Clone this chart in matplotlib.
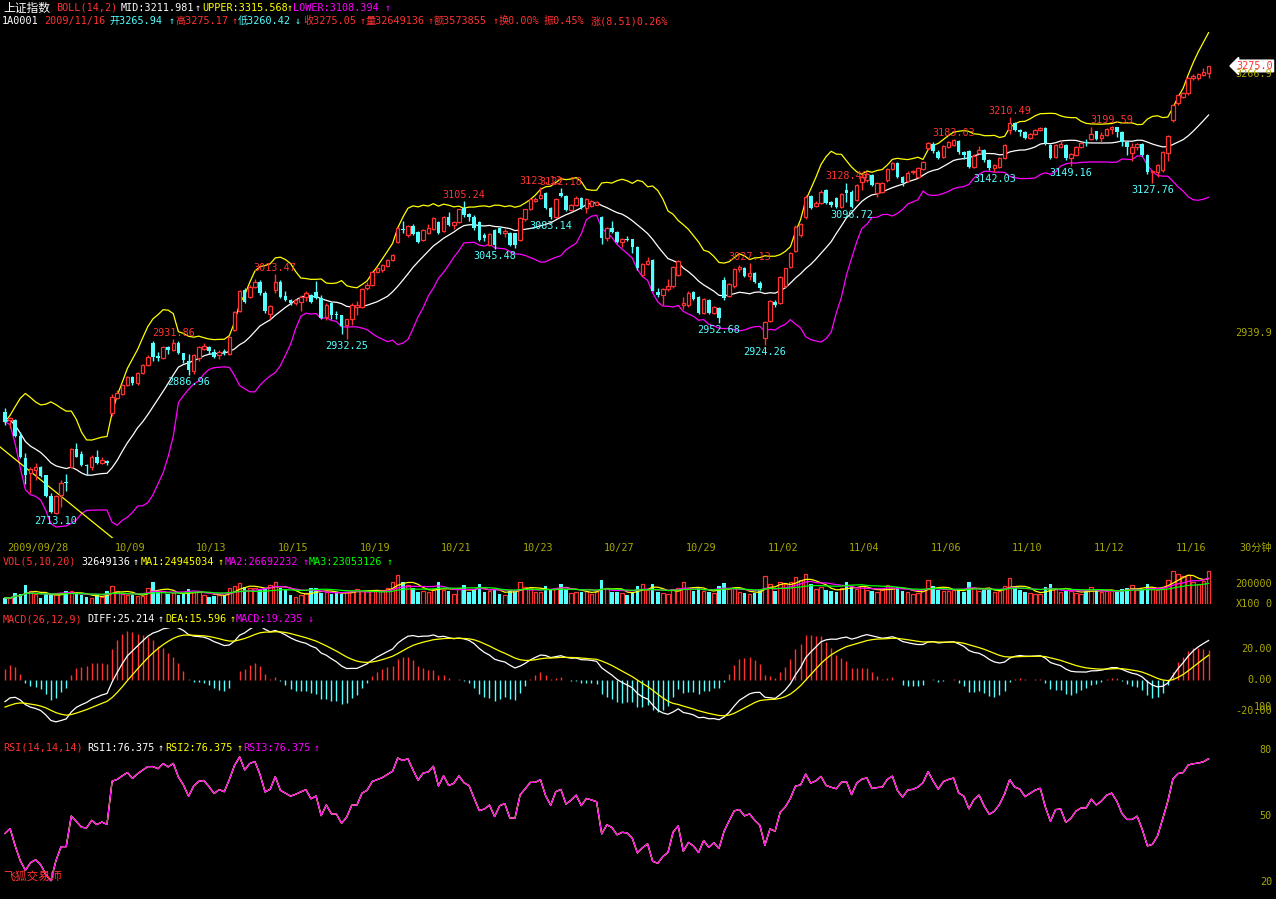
import numpy as np
import pandas as pd
import matplotlib
matplotlib.use("Agg")
import matplotlib.pyplot as plt
from matplotlib.transforms import blended_transform_factory

# 上证指数 30-minute candles, 2009/09/28 .. 2009/11/16
opens = [
    2841.1, 2830.7, 2830.7, 2810.7, 2782.7, 2763.8, 2768.0, 2772.1, 2761.7, 2735.3, 2714.0, 2736.6, 2753.3, 2771.4, 2794.3, 2787.7, 2774.2, 2772.1, 2784.7, 2777.1, 2779.3,
    2839.1, 2858.0, 2863.3, 2874.6, 2884.3, 2876.8, 2890.1, 2899.7,
    2927.0, 2911.0, 2908.0, 2922.7, 2918.6, 2927.7, 2914.4, 2905.1,
    2892.0, 2908.0, 2919.4, 2922.7, 2916.4, 2912.3, 2917.3, 2913.2,
    2943.7, 2967.5, 2993.8, 2985.0, 2998.0, 3004.0, 2989.7, 2963.8,
    2993.8, 3004.3, 2986.3, 2981.3, 2977.0, 2979.0, 2984.7, 2987.6,
    2991.8, 2983.5, 2960.4, 2977.2, 2963.5, 2962.5, 2949.9, 2957.1,
    2972.0, 2972.9, 2996.0, 3000.0, 3016.8, 3019.0, 3024.0, 3031.5,
    3054.5, 3071.0, 3062.9, 3074.0, 3067.0, 3056.6, 3065.8, 3070.0,
    3079.6, 3068.3, 3085.9, 3075.4, 3079.6, 3096.4, 3089.0, 3085.9,
    3079.6, 3062.9, 3050.4, 3069.2, 3071.3, 3066.0, 3065.8, 3065.0,
    3056.6, 3082.6, 3095.1, 3106.0, 3109.0, 3115.2, 3096.4, 3085.1,
    3115.2, 3111.8, 3094.3, 3100.6, 3108.9, 3096.4, 3099.0, 3101.0,
    3085.1, 3058.8, 3071.3, 3067.0, 3054.5, 3057.5, 3057.5, 3048.3,
    3012.7, 3026.5, 3031.5, 2991.8, 2987.6, 2994.7, 2998.9, 3012.7,
    2975.0, 2975.0, 2991.8, 2984.7, 2965.4, 2981.3, 2965.4, 2970.9,
    3006.4, 2986.3, 2998.9, 3019.8, 3021.1, 3011.5, 3014.8, 3002.3,
    2933.3, 2955.0, 2979.0, 2977.0, 2998.9, 3022.4, 3043.0, 3062.9,
    3085.1, 3111.8, 3099.2, 3103.4, 3119.4, 3104.7, 3108.9, 3098.4,
    3119.4, 3117.2, 3106.7, 3129.7, 3131.9, 3138.2, 3115.2, 3116.4,
    3131.9, 3145.3, 3153.6, 3136.1, 3131.1, 3142.0, 3136.1, 3145.3,
    3172.1, 3177.1, 3167.4, 3161.2, 3173.7, 3175.8, 3180.8, 3166.7,
    3168.3, 3148.6, 3165.4, 3169.6, 3157.0, 3146.6, 3148.6, 3159.9,
    3194.6, 3203.1, 3194.6, 3192.5, 3185.2, 3189.3, 3194.6, 3197.5,
    3175.8, 3161.2, 3173.7, 3175.8, 3159.1, 3163.3, 3173.7, 3180.0,
    3183.5, 3193.0, 3184.2, 3188.4, 3195.9, 3198.8, 3191.8, 3180.0,
    3165.4, 3173.7, 3176.7, 3163.3, 3142.3, 3142.3, 3144.5, 3165.4,
    3207.2, 3228.2, 3236.5, 3240.7, 3259.5, 3259.5, 3263.7, 3265.94,
]
closes = [
    2828.6, 2832.8, 2810.7, 2784.7, 2761.7, 2768.8, 2771.4, 2760.5, 2735.3, 2715.0, 2735.3, 2751.3, 2751.3, 2794.3, 2784.7, 2774.2, 2773.0, 2783.9, 2777.1, 2780.5, 2777.1,
    2859.2, 2864.2, 2874.6, 2884.3, 2876.8, 2889.3, 2899.7, 2910.0,
    2910.2, 2908.0, 2921.9, 2918.6, 2927.7, 2914.4, 2906.0, 2893.5,
    2912.3, 2921.9, 2923.6, 2917.3, 2910.2, 2916.4, 2914.4, 2935.3,
    2966.6, 2993.0, 2979.0, 2998.0, 3004.3, 2990.0, 2967.9, 2973.8,
    3004.3, 2985.5, 2981.3, 2977.2, 2981.0, 2985.5, 2989.7, 2979.0,
    2983.5, 2958.3, 2975.1, 2962.5, 2962.0, 2948.7, 2957.1, 2975.1,
    2975.0, 2994.7, 3000.0, 3016.8, 3021.0, 3025.0, 3031.5, 3037.8,
    3071.3, 3069.0, 3074.0, 3064.0, 3054.5, 3069.1, 3071.3, 3083.9,
    3065.0, 3085.9, 3075.4, 3079.6, 3095.1, 3088.0, 3085.0, 3071.3,
    3056.6, 3058.7, 3064.2, 3050.4, 3065.0, 3068.0, 3050.4, 3050.4,
    3083.9, 3095.1, 3107.7, 3108.0, 3113.0, 3096.4, 3085.1, 3107.7,
    3111.8, 3094.3, 3100.6, 3108.9, 3096.4, 3107.7, 3106.0, 3104.0,
    3058.8, 3071.3, 3067.0, 3054.5, 3057.5, 3056.6, 3048.3, 3021.0,
    3026.5, 3030.6, 2993.0, 2987.6, 2994.7, 2998.9, 3022.4, 3030.6,
    2978.0, 2990.5, 2982.2, 2965.4, 2982.2, 2965.4, 2972.0, 2958.3,
    2983.5, 3001.4, 3019.8, 3022.4, 3011.5, 3015.0, 3004.3, 2996.0,
    2954.1, 2980.0, 2975.0, 3009.8, 3021.1, 3040.7, 3073.3, 3076.7,
    3111.0, 3096.4, 3103.4, 3117.2, 3103.4, 3100.5, 3098.4, 3114.3,
    3116.0, 3098.4, 3125.6, 3136.1, 3139.4, 3125.6, 3127.8, 3128.5,
    3145.3, 3152.8, 3136.1, 3127.8, 3141.1, 3142.6, 3146.6, 3154.9,
    3178.7, 3168.7, 3159.8, 3174.9, 3179.2, 3182.1, 3166.7, 3163.3,
    3148.6, 3162.4, 3169.6, 3157.0, 3146.6, 3150.7, 3159.9, 3175.8,
    3203.1, 3194.6, 3192.5, 3184.2, 3189.3, 3194.6, 3197.5, 3178.0,
    3159.9, 3175.8, 3176.7, 3159.1, 3164.2, 3173.7, 3177.9, 3178.0,
    3189.3, 3183.4, 3188.4, 3195.9, 3198.8, 3191.8, 3180.0, 3173.7,
    3173.7, 3176.7, 3163.3, 3142.3, 3143.6, 3150.7, 3166.7, 3187.5,
    3226.0, 3238.6, 3240.7, 3259.5, 3262.8, 3264.6, 3267.9, 3275.05,
]
highs = [
    2845.8, 2834.5, 2832.0, 2816.0, 2788.9, 2772.1, 2777.1, 2772.7, 2762.0, 2738.7, 2736.0, 2755.4, 2762.9, 2795.0, 2801.5, 2791.2, 2775.0, 2786.6, 2793.0, 2784.7, 2780.5,
    2862.9, 2867.8, 2876.0, 2886.0, 2886.0, 2891.0, 2901.0, 2912.0,
    2930.0, 2916.0, 2923.0, 2924.0, 2931.86, 2930.0, 2915.0, 2914.0,
    2913.0, 2923.0, 2927.0, 2924.0, 2920.0, 2918.0, 2920.0, 2936.0,
    2968.0, 2994.0, 2996.0, 3000.0, 3008.0, 3006.0, 2992.0, 2975.0,
    3013.47, 3006.0, 2993.0, 2983.0, 2983.0, 2987.0, 2992.0, 2989.0,
    3005.0, 2987.0, 2977.0, 2979.0, 2968.0, 2963.0, 2958.0, 2977.0,
    2980.0, 2996.0, 3004.0, 3018.0, 3022.0, 3027.0, 3033.0, 3039.0,
    3073.0, 3080.0, 3075.0, 3077.0, 3068.0, 3070.0, 3077.0, 3085.0,
    3081.0, 3087.0, 3092.0, 3081.0, 3096.0, 3105.24, 3091.0, 3088.0,
    3081.0, 3066.0, 3065.0, 3070.0, 3073.0, 3070.0, 3067.0, 3066.0,
    3085.0, 3096.0, 3109.0, 3110.0, 3123.13, 3117.0, 3098.0, 3109.0,
    3122.18, 3113.0, 3102.0, 3112.0, 3110.0, 3109.0, 3107.0, 3106.0,
    3087.0, 3073.0, 3080.0, 3068.0, 3059.0, 3062.0, 3058.0, 3049.0,
    3028.0, 3035.0, 3033.0, 2996.0, 2996.0, 3008.0, 3024.0, 3032.0,
    2985.0, 2992.0, 2993.0, 2986.0, 2984.0, 2983.0, 2974.0, 2972.0,
    3010.0, 3003.0, 3021.0, 3025.0, 3023.0, 3027.13, 3016.0, 3005.0,
    2955.0, 2981.0, 2981.0, 3011.0, 3022.0, 3042.0, 3075.0, 3078.0,
    3113.0, 3113.0, 3105.0, 3119.0, 3121.0, 3106.0, 3110.0, 3116.0,
    3128.48, 3119.0, 3127.0, 3140.0, 3141.0, 3140.0, 3129.0, 3130.0,
    3147.0, 3155.0, 3155.0, 3137.0, 3143.0, 3145.0, 3148.0, 3156.0,
    3180.0, 3179.0, 3169.0, 3176.0, 3181.0, 3183.03, 3182.0, 3168.0,
    3170.0, 3164.0, 3174.0, 3171.0, 3158.0, 3152.0, 3161.0, 3177.0,
    3210.49, 3205.0, 3196.0, 3194.0, 3191.0, 3196.0, 3199.0, 3199.0,
    3177.0, 3177.0, 3182.0, 3177.0, 3166.0, 3175.0, 3179.0, 3184.0,
    3198.0, 3194.0, 3192.0, 3197.0, 3199.59, 3199.0, 3193.0, 3181.0,
    3178.0, 3178.0, 3178.0, 3164.0, 3145.0, 3152.0, 3168.0, 3188.0,
    3227.0, 3240.0, 3243.0, 3261.0, 3265.0, 3266.0, 3272.0, 3275.17,
]
lows = [
    2824.4, 2820.7, 2809.0, 2783.0, 2750.0, 2738.7, 2755.4, 2759.0, 2734.0, 2714.0, 2713.1, 2721.9, 2742.0, 2770.0, 2783.9, 2772.9, 2761.7, 2768.0, 2776.0, 2776.0, 2774.2,
    2835.1, 2857.0, 2862.0, 2873.0, 2875.0, 2875.0, 2889.0, 2898.0,
    2905.0, 2905.0, 2907.0, 2914.0, 2917.0, 2913.0, 2902.0, 2886.96,
    2889.0, 2905.0, 2918.0, 2914.0, 2909.0, 2907.0, 2912.0, 2912.0,
    2942.0, 2966.0, 2977.0, 2984.0, 2997.0, 2988.0, 2965.0, 2958.0,
    2990.0, 2984.0, 2980.0, 2975.0, 2975.0, 2968.0, 2980.0, 2977.0,
    2982.0, 2957.0, 2956.0, 2957.0, 2958.0, 2939.0, 2932.25, 2950.0,
    2962.0, 2971.0, 2994.0, 2999.0, 3015.0, 3017.0, 3023.0, 3030.0,
    3053.0, 3066.0, 3061.0, 3063.0, 3053.0, 3055.0, 3064.0, 3069.0,
    3064.0, 3067.0, 3074.0, 3070.0, 3078.0, 3085.0, 3081.0, 3069.0,
    3055.0, 3055.0, 3049.0, 3045.48, 3064.0, 3060.0, 3049.0, 3047.0,
    3055.0, 3081.0, 3094.0, 3104.0, 3108.0, 3095.0, 3083.14, 3084.0,
    3110.0, 3093.0, 3093.0, 3099.0, 3095.0, 3090.0, 3098.0, 3100.0,
    3052.0, 3055.0, 3065.0, 3053.0, 3048.0, 3055.0, 3040.0, 3019.0,
    3011.0, 3025.0, 2992.0, 2985.0, 2975.0, 2993.0, 2997.0, 3011.0,
    2970.0, 2973.0, 2981.0, 2964.0, 2964.0, 2964.0, 2964.0, 2952.68,
    2981.0, 2985.0, 2997.0, 3016.0, 3010.0, 3006.0, 3003.0, 2994.0,
    2924.26, 2954.0, 2973.0, 2976.0, 2997.0, 3021.0, 3041.0, 3061.0,
    3083.0, 3095.0, 3098.0, 3102.0, 3102.0, 3098.0, 3097.0, 3097.0,
    3104.7, 3096.72, 3105.0, 3120.0, 3130.0, 3124.0, 3110.0, 3115.0,
    3130.0, 3144.0, 3135.0, 3125.0, 3129.0, 3140.0, 3135.0, 3144.0,
    3170.0, 3166.0, 3158.0, 3160.0, 3172.0, 3174.0, 3165.0, 3158.0,
    3147.0, 3147.0, 3164.0, 3155.0, 3145.0, 3142.03, 3147.0, 3158.0,
    3190.0, 3193.0, 3187.0, 3183.0, 3184.0, 3188.0, 3193.0, 3176.0,
    3158.0, 3160.0, 3172.0, 3157.0, 3149.16, 3162.0, 3172.0, 3174.0,
    3182.0, 3182.0, 3180.0, 3187.0, 3190.0, 3186.0, 3175.0, 3163.0,
    3156.0, 3170.0, 3162.0, 3140.0, 3127.76, 3136.0, 3142.0, 3156.0,
    3205.0, 3226.0, 3235.0, 3239.0, 3257.0, 3258.0, 3262.0, 3260.42,
]
# volume, millions of shares
volumes = [
    6.3, 5.7, 11.3, 10.0, 19.0, 13.0, 9.7, 6.3, 9.7, 9.7, 9.7, 10.7, 13.0, 13.0, 9.7, 9.0, 6.7, 6.3, 9.0, 6.7, 13.0,
    18.0, 13.0, 9.7, 9.0, 9.0, 8.3, 8.3, 16.3,
    22.3, 13.0, 13.0, 9.7, 10.7, 9.0, 9.7, 15.0,
    11.7, 13.0, 9.0, 7.3, 8.3, 9.0, 9.0, 16.3,
    18.0, 21.3, 17.3, 16.3, 15.7, 14.0, 15.7, 19.0,
    21.7, 15.7, 14.0, 9.0, 7.3, 9.0, 10.7, 15.7,
    16.3, 10.7, 12.3, 9.7, 11.7, 9.7, 12.3, 13.0,
    15.0, 13.0, 13.0, 13.0, 14.0, 13.0, 15.7, 21.7,
    29.0, 22.3, 19.0, 15.7, 12.3, 13.0, 12.0, 15.0,
    22.0, 14.0, 13.0, 10.0, 16.0, 19.0, 12.0, 14.0,
    20.0, 12.0, 13.0, 15.0, 10.0, 9.0, 13.0, 14.0,
    22.0, 17.0, 16.0, 12.0, 12.0, 18.0, 14.0, 16.0,
    20.0, 15.0, 11.0, 12.0, 12.0, 13.0, 10.0, 13.0,
    24.0, 16.0, 12.0, 12.0, 11.0, 9.0, 12.0, 18.0,
    20.0, 14.0, 20.0, 12.0, 11.0, 10.0, 15.0, 16.0,
    22.0, 16.0, 13.0, 16.0, 13.0, 12.0, 11.0, 18.0,
    21.0, 15.0, 16.0, 12.0, 11.0, 10.0, 11.0, 14.0,
    28.0, 20.0, 13.0, 22.0, 20.0, 22.0, 27.0, 24.0,
    30.0, 20.0, 15.0, 17.0, 14.0, 13.0, 12.0, 16.0,
    22.0, 17.0, 15.0, 18.0, 14.0, 13.0, 12.0, 14.0,
    19.0, 16.0, 17.0, 13.0, 12.0, 10.0, 11.0, 15.0,
    24.0, 18.0, 14.0, 13.0, 13.0, 14.0, 15.0, 12.0,
    22.0, 16.0, 13.0, 14.0, 15.0, 12.0, 13.0, 18.0,
    26.0, 18.0, 14.0, 12.0, 11.0, 10.0, 10.0, 17.0,
    20.0, 15.0, 12.0, 14.0, 13.0, 11.0, 10.0, 13.0,
    17.0, 14.0, 12.0, 13.0, 14.0, 12.0, 15.0, 16.0,
    19.0, 14.0, 15.0, 20.0, 16.0, 14.0, 17.0, 24.0,
    33.0, 30.0, 28.0, 29.0, 22.0, 20.0, 23.0, 32.65,
]

day_labels = ["2009/09/28", "10/09", "10/13", "10/15", "10/19", "10/21", "10/23", "10/27",
              "10/29", "11/02", "11/04", "11/06", "11/10", "11/12", "11/16"]
day_starts = [0, 21, 37, 53, 69, 85, 101, 117, 133, 149, 165, 181, 197, 213, 229]

high_marks = [33, 53, 90, 105, 109, 146, 165, 186, 197, 217]
low_marks = [10, 36, 67, 96, 107, 140, 149, 166, 194, 209, 225]
trendline = [(-1.0, 2797.0), (21.6, 2680.0)]

# indicator start values read at the left edge of the chart
macd_start = (-14.0, -17.5)   # DIFF, DEA
rsi_start = 42.0

# ---------------------------------------------------------------
plt.rcParams['font.family'] = ['DejaVu Sans Mono', 'Noto Sans CJK SC']
FS = 7.3
RED = '#FF3232'
CYAN = '#54FFFF'
YEL = '#FFFF00'
MAG = '#FF00FF'
GRN = '#00FF00'
OLIVE = '#A8A800'

o = np.array(opens); c = np.array(closes)
h = np.array(highs); l = np.array(lows); v = np.array(volumes)
n = len(c)
x = np.arange(n)
up = c >= o
col = np.where(up, RED, CYAN)

cs = pd.Series(c)
mid = cs.rolling(14, min_periods=1).mean()
sd = cs.rolling(14, min_periods=2).std().fillna(0)
upper = mid + 2 * sd
lower = mid - 2 * sd

e12 = np.empty(n); e26 = np.empty(n); dea = np.empty(n)
e12[0] = c[0] + macd_start[0]; e26[0] = c[0]
for i in range(1, n):
    e12[i] = (2 * c[i] + 11 * e12[i - 1]) / 13
    e26[i] = (2 * c[i] + 25 * e26[i - 1]) / 27
diff = e12 - e26
dea[0] = macd_start[1]
for i in range(1, n):
    dea[i] = (2 * diff[i] + 8 * dea[i - 1]) / 10
hist = 2 * (diff - dea)

d = np.diff(c, prepend=c[0])
upa = np.empty(n); absa = np.empty(n)
absa[0] = 8.0; upa[0] = rsi_start / 100 * absa[0]
for i in range(1, n):
    upa[i] = (max(d[i], 0) + 13 * upa[i - 1]) / 14
    absa[i] = (abs(d[i]) + 13 * absa[i - 1]) / 14
rsi = upa / absa * 100

vs = pd.Series(v)
vma = [vs.rolling(k, min_periods=1).mean() for k in (5, 10, 20)]

W, H = 1276, 899
fig = plt.figure(figsize=(W / 100, H / 100), dpi=100, facecolor='black')


def panel(top, bottom):
    a = fig.add_axes([0, 1 - bottom / H, 1230 / W, (bottom - top) / H], facecolor='black')
    a.set_xlim(-0.98, 240.2)
    a.axis('off')
    return a


def put(px, py, s, color, ha='left', size=FS):
    fig.text(px / W, 1 - py / H, s, color=color, fontsize=size, ha=ha, va='center')


ax = panel(28, 538)
ax.set_ylim(2682.6, 3322.7)
axv = panel(570, 604)
axv.set_ylim(0, 34)
axm = panel(628, 742)
axm.set_ylim(-40, 33.5)
axr = panel(752, 899)
axr.set_ylim(12.0, 79.3)

# price panel
ax.plot(x, upper, color=YEL, lw=0.9, zorder=2)
ax.plot(x, mid, color='white', lw=0.9, zorder=2)
ax.plot(x, lower, color=MAG, lw=0.9, zorder=2)
ax.vlines(x, l, h, colors=col, lw=1, zorder=3)
body_lo = np.minimum(o, c)
body_h = np.maximum(np.abs(c - o), 0.6)
ax.bar(x[up], body_h[up], bottom=body_lo[up], width=0.7, facecolor='black',
       edgecolor=RED, lw=0.9, zorder=4)
ax.bar(x[~up], body_h[~up], bottom=body_lo[~up], width=0.7, color=CYAN, lw=0, zorder=4)
tx, ty = zip(*trendline)
ax.plot(tx, ty, color=YEL, lw=0.9, zorder=2)

for i in high_marks:
    ax.annotate(f"{h[i]:.2f}", (i, h[i]), xytext=(0, 4.5), textcoords='offset points',
                ha='center', va='center', color=RED, fontsize=FS, zorder=5)
for i in low_marks:
    ax.annotate(f"{l[i]:.2f}", (i, l[i]), xytext=(0, -5), textcoords='offset points',
                ha='center', va='center', color=CYAN, fontsize=FS, zorder=5)

# date labels under the price panel
tr = blended_transform_factory(ax.transData, fig.transFigure)
for lab, i in zip(day_labels, day_starts):
    ax.text(i + 0.5, 1 - 548 / H, lab, transform=tr, color=OLIVE, fontsize=FS,
            ha='left', va='center', clip_on=False)

# volume
axv.bar(x[up], v[up], width=0.7, facecolor='black', edgecolor=RED, lw=0.9)
axv.bar(x[~up], v[~up], width=0.7, color=CYAN, lw=0)
for m, cc in zip(vma, (YEL, MAG, GRN)):
    axv.plot(x, m, color=cc, lw=0.9)

# macd
axm.vlines(x, 0, hist, colors=np.where(hist >= 0, RED, CYAN), lw=1)
axm.plot(x, diff, color='white', lw=0.9)
axm.plot(x, dea, color=YEL, lw=0.9)

# rsi (three identical lines)
axr.plot(x, rsi, color='white', lw=0.9)
axr.plot(x, rsi, color=YEL, lw=0.9)
axr.plot(x, rsi, color=MAG, lw=0.9)

# header lines
put(3, 8, "上证指数", 'white', size=8.5)
put(56, 8, "BOLL(14,2)", RED)
put(121, 8, "MID:3211.981", 'white')
put(195, 8, "↑", 'white')
put(202, 8, "UPPER:3315.568", YEL)
put(287, 8, "↑", YEL)
put(293, 8, "LOWER:3108.394", MAG)
put(385, 8, "↑", MAG)

put(2, 21, "1A0001", 'white')
put(44, 21, "2009/11/16", RED)
put(109, 21, "开3265.94", CYAN)
put(169, 21, "↑", CYAN)
put(175, 21, "高3275.17", RED)
put(232, 21, "↑", RED)
put(238, 21, "低3260.42", CYAN)
put(295, 21, "↓", CYAN)
put(303, 21, "收3275.05", RED)
put(360, 21, "↑", RED)
put(366, 21, "量32649136", RED)
put(428, 21, "↑", RED)
put(434, 21, "额3573855", RED)
put(493, 21, "↑", RED)
put(499, 21, "换0.00%", RED)
put(544, 21, "振0.45%", RED)
put(591, 21, "涨(8.51)0.26%", RED)

put(3, 562, "VOL(5,10,20)", RED)
put(81, 562, "32649136", 'white')
put(133, 562, "↑", 'white')
put(141, 562, "MA1:24945034", YEL)
put(218, 562, "↑", YEL)
put(225, 562, "MA2:26692232", MAG)
put(303, 562, "↑", MAG)
put(309, 562, "MA3:23053126", GRN)
put(387, 562, "↑", GRN)

put(3, 619, "MACD(26,12,9)", RED)
put(87, 619, "DIFF:25.214", 'white')
put(158, 619, "↑", 'white')
put(165, 619, "DEA:15.596", YEL)
put(230, 619, "↑", YEL)
put(236, 619, "MACD:19.235", MAG)
put(308, 619, "↓", MAG)

put(3, 748, "RSI(14,14,14)", RED)
put(87, 748, "RSI1:76.375", 'white')
put(158, 748, "↑", 'white')
put(165, 748, "RSI2:76.375", YEL)
put(237, 748, "↑", YEL)
put(243, 748, "RSI3:76.375", MAG)
put(314, 748, "↑", MAG)

put(3, 876, "飞狐交易师", RED, size=8.5)

# right-hand scale labels
put(1272, 74, "3266.9", OLIVE, ha='right')
put(1272, 333, "2939.9", OLIVE, ha='right')
put(1272, 548, "30分钟", OLIVE, ha='right')
put(1272, 584, "200000", OLIVE, ha='right')
put(1236, 604, "X100", OLIVE)
put(1272, 604, "0", OLIVE, ha='right')
put(1272, 649, "20.00", OLIVE, ha='right')
put(1272, 680, "0.00", OLIVE, ha='right')
put(1272, 711, "-20.00", OLIVE, ha='right')
put(1272, 707, "100", OLIVE, ha='right')
put(1272, 750, "80", OLIVE, ha='right')
put(1272, 816, "50", OLIVE, ha='right')
put(1272, 882, "20", OLIVE, ha='right')

# last price tag (price truncated to one decimal, as the software shows it)
ttr = blended_transform_factory(fig.transFigure, ax.transData)
tag = f"{np.floor(c[-1] * 10) / 10:.1f}"
ax.text(1236 / W, c[-1], tag, transform=ttr, color=RED, fontsize=FS,
        ha='left', va='center', clip_on=False, zorder=6,
        bbox=dict(boxstyle='larrow,pad=0.08', fc='white', ec='white'))

fig.savefig("out.png", dpi=100, facecolor='black')
